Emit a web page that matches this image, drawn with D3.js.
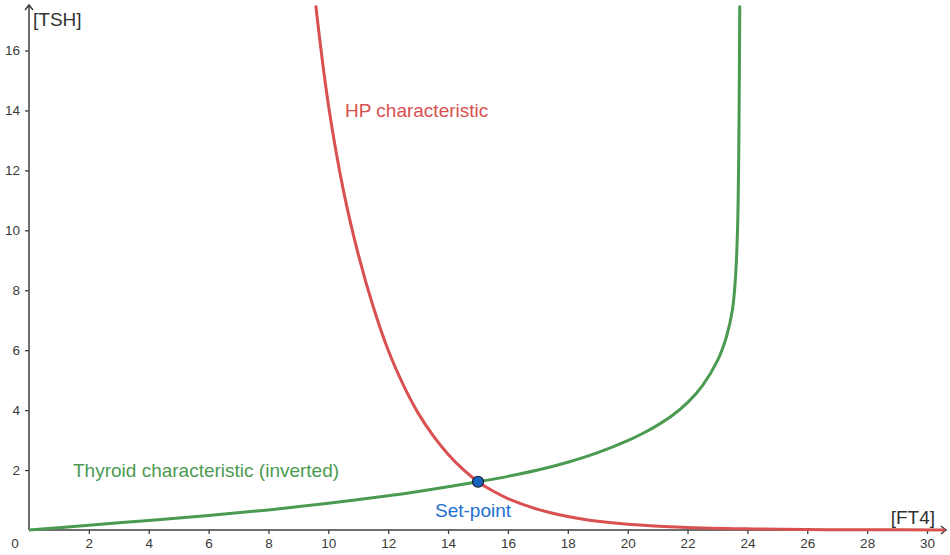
<!DOCTYPE html>
<html>
<head>
<meta charset="utf-8">
<script src="https://cdn.jsdelivr.net/npm/d3@7/dist/d3.min.js"></script>
<style>
  html, body { margin: 0; padding: 0; background: #fff; }
  svg { display: block; font-family: "Liberation Sans", Arial, sans-serif; }
</style>
</head>
<body>
<svg id="chart" width="950" height="555"></svg>
<script>
// ---- data ----
const xTicks = [2, 4, 6, 8, 10, 12, 14, 16, 18, 20, 22, 24, 26, 28, 30];
const yTicks = [2, 4, 6, 8, 10, 12, 14, 16];

// HP characteristic (red)
const hpFT4 = [9.58, 10.0, 10.5, 11.0, 11.5, 12.0, 12.5, 13.0, 13.5, 14.0, 14.5, 15.0, 15.5, 16.0, 17.0, 18.0, 19.0, 20.0, 22.0, 24.0, 26.0, 28.0, 30.6];
const hpTSH = [17.5, 14.2, 11.35, 9.2, 7.45, 6.0, 4.85, 3.9, 3.15, 2.53, 2.02, 1.61, 1.3, 1.05, 0.69, 0.45, 0.29, 0.19, 0.085, 0.038, 0.016, 0.007, 0.002];

// Thyroid characteristic, inverted (green)
const thyFT4 = [0, 2, 4, 6, 8, 10, 12, 13, 14, 15, 16, 17, 18, 19, 20, 20.5, 21, 21.5, 22, 22.5, 23, 23.3, 23.5, 23.6, 23.67, 23.71, 23.73, 23.745];
const thyTSH = [0, 0.16, 0.32, 0.48, 0.67, 0.89, 1.14, 1.285, 1.44, 1.61, 1.79, 2.0, 2.26, 2.58, 2.98, 3.22, 3.5, 3.83, 4.25, 4.82, 5.65, 6.45, 7.35, 8.4, 10.0, 12.5, 15.0, 17.5];

const setPoint = [15.0, 1.61];

const labels = {
  yAxis: "[TSH]",
  xAxis: "[FT4]",
  hp: "HP characteristic",
  thy: "Thyroid characteristic (inverted)",
  sp: "Set-point"
};

// ---- drawing ----
const svg = d3.select("#chart");
const RED = "#d95050", GREEN = "#4b9a52", BLUE = "#1f6fd1", AXIS = "#3c3c3c", TXT = "#3a3a3a";

const x = d3.scaleLinear().domain([0, 30]).range([29, 927]);
const y = d3.scaleLinear().domain([0, 16]).range([530, 50.5]);
const yTop = 17.52, xEnd = 30.6;

// x axis ticks
const gx = svg.append("g").attr("transform", `translate(0,${y(0)})`)
  .call(d3.axisBottom(x).tickValues(xTicks).tickSize(4).tickSizeOuter(0).tickPadding(4.5));
gx.select(".domain").remove();
gx.selectAll(".tick line").attr("stroke", AXIS).attr("stroke-width", 1.3);
gx.selectAll(".tick text").attr("fill", TXT).style("font-size", "13.5px")
  .style("font-family", "'Liberation Sans', Arial, sans-serif");

// y axis ticks
const gy = svg.append("g").attr("transform", `translate(${x(0)},0)`)
  .call(d3.axisLeft(y).tickValues(yTicks).tickSize(4).tickSizeOuter(0).tickPadding(5));
gy.select(".domain").remove();
gy.selectAll(".tick line").attr("stroke", AXIS).attr("stroke-width", 1.3);
gy.selectAll(".tick text").attr("fill", TXT).style("font-size", "13.5px")
  .style("font-family", "'Liberation Sans', Arial, sans-serif");

// origin label
svg.append("text").attr("x", 15).attr("y", 548).attr("text-anchor", "middle")
  .attr("fill", TXT).style("font-size", "13.5px").text("0");

// axis lines with open arrow heads
const ax = svg.append("g").attr("stroke", AXIS).attr("stroke-width", 1.5).attr("fill", "none");
ax.append("line").attr("x1", x(0)).attr("y1", y(0)).attr("x2", x(0)).attr("y2", y(yTop) + 0.5);
ax.append("path").attr("d", `M${x(0) - 4},${y(yTop) + 5} L${x(0)},${y(yTop)} L${x(0) + 4},${y(yTop) + 5}`);
ax.append("line").attr("x1", x(0)).attr("y1", y(0)).attr("x2", x(xEnd) + 1).attr("y2", y(0));
ax.append("path").attr("d", `M${x(xEnd) - 4},${y(0) - 4} L${x(xEnd) + 1},${y(0)} L${x(xEnd) - 4},${y(0) + 4}`);

// axis labels
svg.append("text").attr("x", 33).attr("y", 26).attr("fill", "#333")
  .style("font-size", "19px").text(labels.yAxis);
svg.append("text").attr("x", 935).attr("y", 524).attr("text-anchor", "end").attr("fill", "#333")
  .style("font-size", "19px").text(labels.xAxis);

// curves
const line = d3.line().x(d => x(d[0])).y(d => y(d[1])).curve(d3.curveCatmullRom.alpha(0.5));
const hpData = hpFT4.map((v, i) => [v, hpTSH[i]]);
const thyData = thyFT4.map((v, i) => [v, thyTSH[i]]);

svg.append("path").datum(thyData).attr("d", line)
  .attr("fill", "none").attr("stroke", GREEN).attr("stroke-width", 3).attr("stroke-linejoin", "round");
svg.append("path").datum(hpData).attr("d", line)
  .attr("fill", "none").attr("stroke", RED).attr("stroke-width", 3).attr("stroke-linejoin", "round");

// curve labels
svg.append("text").attr("x", 345).attr("y", 117).attr("fill", RED)
  .style("font-size", "19px").text(labels.hp);
svg.append("text").attr("x", 73).attr("y", 476.5).attr("fill", GREEN)
  .style("font-size", "19px").text(labels.thy);
svg.append("text").attr("x", 435).attr("y", 516.5).attr("fill", BLUE)
  .style("font-size", "19px").text(labels.sp);

// set-point
svg.append("circle").attr("cx", x(setPoint[0])).attr("cy", y(setPoint[1])).attr("r", 5.5)
  .attr("fill", "#1565c0").attr("stroke", "#1a1a2a").attr("stroke-width", 1.2);
</script>
</body>
</html>
